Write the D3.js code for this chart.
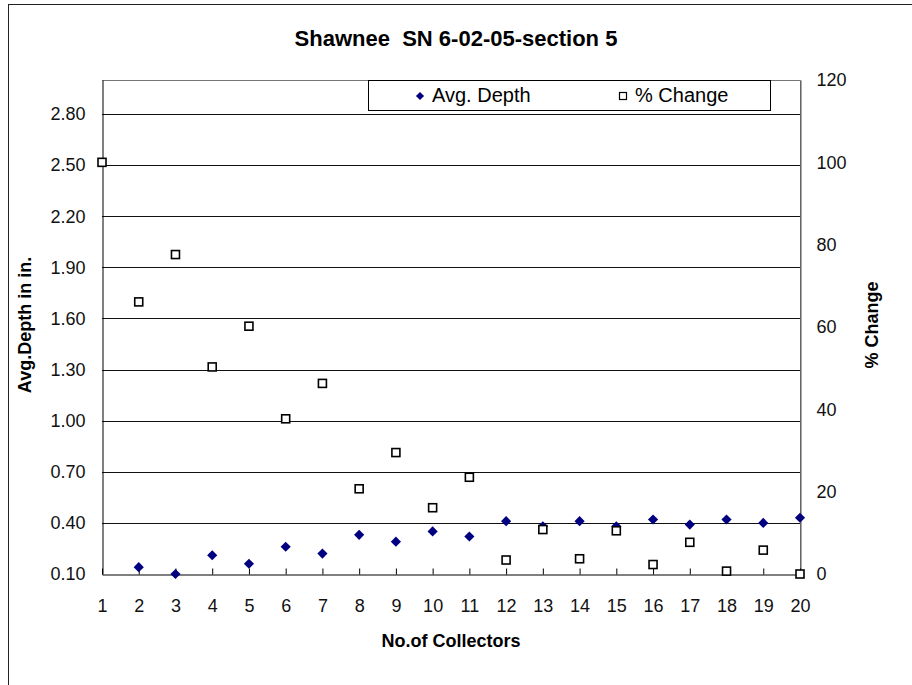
<!DOCTYPE html>
<html lang="en">
<head>
    <meta charset="UTF-8">
    <title>Shawnee SN 6-02-05-section 5</title>
    <script src="https://cdn.jsdelivr.net/npm/d3@7.8.5/dist/d3.min.js"></script>
    <style>
        body { margin: 0; background: #fff; }
        svg text { font-family: "Liberation Sans", Arial, sans-serif; white-space: pre; }
    </style>
</head>
<body>
<div id="container"></div>
<script>
    // data
    const collectors = [1, 2, 3, 4, 5, 6, 7, 8, 9, 10, 11, 12, 13, 14, 15, 16, 17, 18, 19, 20];
    const avgDepth = [null, 0.14, 0.10, 0.21, 0.16, 0.26, 0.22, 0.33, 0.29, 0.35,
        0.32, 0.41, 0.38, 0.41, 0.38, 0.42, 0.39, 0.42, 0.40, 0.43];
    const pctChange = [100, 66.1, 77.6, 50.3, 60.2, 37.7, 46.3, 20.7, 29.5, 16.1,
        23.5, 3.4, 10.8, 3.7, 10.5, 2.3, 7.7, 0.7, 5.8, 0];
    const leftTicks = [0.10, 0.40, 0.70, 1.00, 1.30, 1.60, 1.90, 2.20, 2.50, 2.80];
    const rightTicks = [0, 20, 40, 60, 80, 100, 120];

    const width = 912, height = 685;
    const plot = {left: 102, right: 800, top: 80, bottom: 574};

    const svg = d3.select("#container").append("svg")
        .attr("width", width)
        .attr("height", height);

    // outer frame
    svg.append("rect")
        .attr("x", 8.5).attr("y", 4.5)
        .attr("width", width).attr("height", height)
        .attr("fill", "#fff").attr("stroke", "#222");

    const x = d3.scaleLinear().domain([1, 20]).range([plot.left, plot.right]);
    const yL = d3.scaleLinear().domain([0.1, 3.0]).range([plot.bottom, plot.top]);
    const yR = d3.scaleLinear().domain([0, 120]).range([plot.bottom, plot.top]);

    // plot border (top + right)
    svg.append("path")
        .attr("d", `M${plot.left},${plot.top + 0.5}H${plot.right + 0.5}V${plot.bottom}`)
        .attr("fill", "none").attr("stroke", "#777");

    // gridlines
    svg.append("g").selectAll("line")
        .data(leftTicks.slice(1))
        .join("line")
        .attr("x1", plot.left).attr("x2", plot.right)
        .attr("y1", d => Math.round(yL(d)) + 0.5)
        .attr("y2", d => Math.round(yL(d)) + 0.5)
        .attr("stroke", "#111");

    // left axis
    const gl = svg.append("g")
        .attr("transform", `translate(${plot.left + 0.5},0)`)
        .call(d3.axisLeft(yL).tickValues(leftTicks).tickSize(0).tickPadding(17).tickFormat(d3.format(".2f")));
    gl.select(".domain").attr("stroke", "#000");

    // right axis
    const gr = svg.append("g")
        .attr("transform", `translate(${plot.right + 0.5},0)`)
        .call(d3.axisRight(yR).tickValues(rightTicks).tickSize(0).tickPadding(16));
    gr.select(".domain").attr("stroke", "#555");

    // bottom axis, ticks pointing up
    const gb = svg.append("g")
        .attr("transform", `translate(0,${plot.bottom + 0.5})`)
        .call(d3.axisBottom(x).tickValues(collectors).tickSizeInner(-6).tickSizeOuter(0).tickPadding(25));
    gb.select(".domain").attr("stroke", "#000");

    svg.selectAll(".tick text")
        .attr("font-size", 18)
        .attr("font-family", "Liberation Sans, Arial, sans-serif")
        .attr("fill", "#111");
    svg.selectAll(".tick line").attr("stroke", "#000");

    // avg. depth diamonds
    const diamond = d3.symbol().type(d3.symbolDiamond2).size(66);
    svg.append("g").selectAll("path")
        .data(collectors.map((c, i) => ({c, v: avgDepth[i]})).filter(d => d.v != null))
        .join("path")
        .attr("d", diamond)
        .attr("transform", d => `translate(${x(d.c)},${yL(d.v)})`)
        .attr("fill", "#000080");

    // % change squares
    svg.append("g").selectAll("rect")
        .data(collectors.map((c, i) => ({c, v: pctChange[i]})))
        .join("rect")
        .attr("x", d => x(d.c) - 4)
        .attr("y", d => yR(d.v) - 4)
        .attr("width", 8).attr("height", 8)
        .attr("fill", "#fff")
        .attr("stroke", "#000")
        .attr("stroke-width", 1.6);

    // title
    svg.append("text")
        .attr("x", 456).attr("y", 46)
        .attr("text-anchor", "middle")
        .attr("font-size", 22).attr("font-weight", "bold")
        .text("Shawnee  SN 6-02-05-section 5");

    // axis titles
    svg.append("text")
        .attr("transform", "translate(31,325) rotate(-90)")
        .attr("text-anchor", "middle")
        .attr("font-size", 18).attr("font-weight", "bold")
        .text("Avg.Depth in in.");
    svg.append("text")
        .attr("transform", "translate(878,325) rotate(-90)")
        .attr("text-anchor", "middle")
        .attr("font-size", 18).attr("font-weight", "bold")
        .text("% Change");
    svg.append("text")
        .attr("x", 451).attr("y", 647)
        .attr("text-anchor", "middle")
        .attr("font-size", 18).attr("font-weight", "bold")
        .text("No.of Collectors");

    // legend
    const lg = svg.append("g");
    lg.append("rect")
        .attr("x", 368.5).attr("y", 80.5)
        .attr("width", 402).attr("height", 30)
        .attr("fill", "#fff").attr("stroke", "#000");
    lg.append("path")
        .attr("d", d3.symbol().type(d3.symbolDiamond2).size(42))
        .attr("transform", "translate(420,96)")
        .attr("fill", "#000080");
    lg.append("text")
        .attr("x", 432).attr("y", 102)
        .attr("font-size", 20)
        .text("Avg. Depth");
    lg.append("rect")
        .attr("x", 619.5).attr("y", 92.5)
        .attr("width", 7).attr("height", 7)
        .attr("fill", "#fff").attr("stroke", "#000").attr("stroke-width", 1.2);
    lg.append("text")
        .attr("x", 635).attr("y", 102)
        .attr("font-size", 20)
        .text("% Change");
</script>
</body>
</html>
